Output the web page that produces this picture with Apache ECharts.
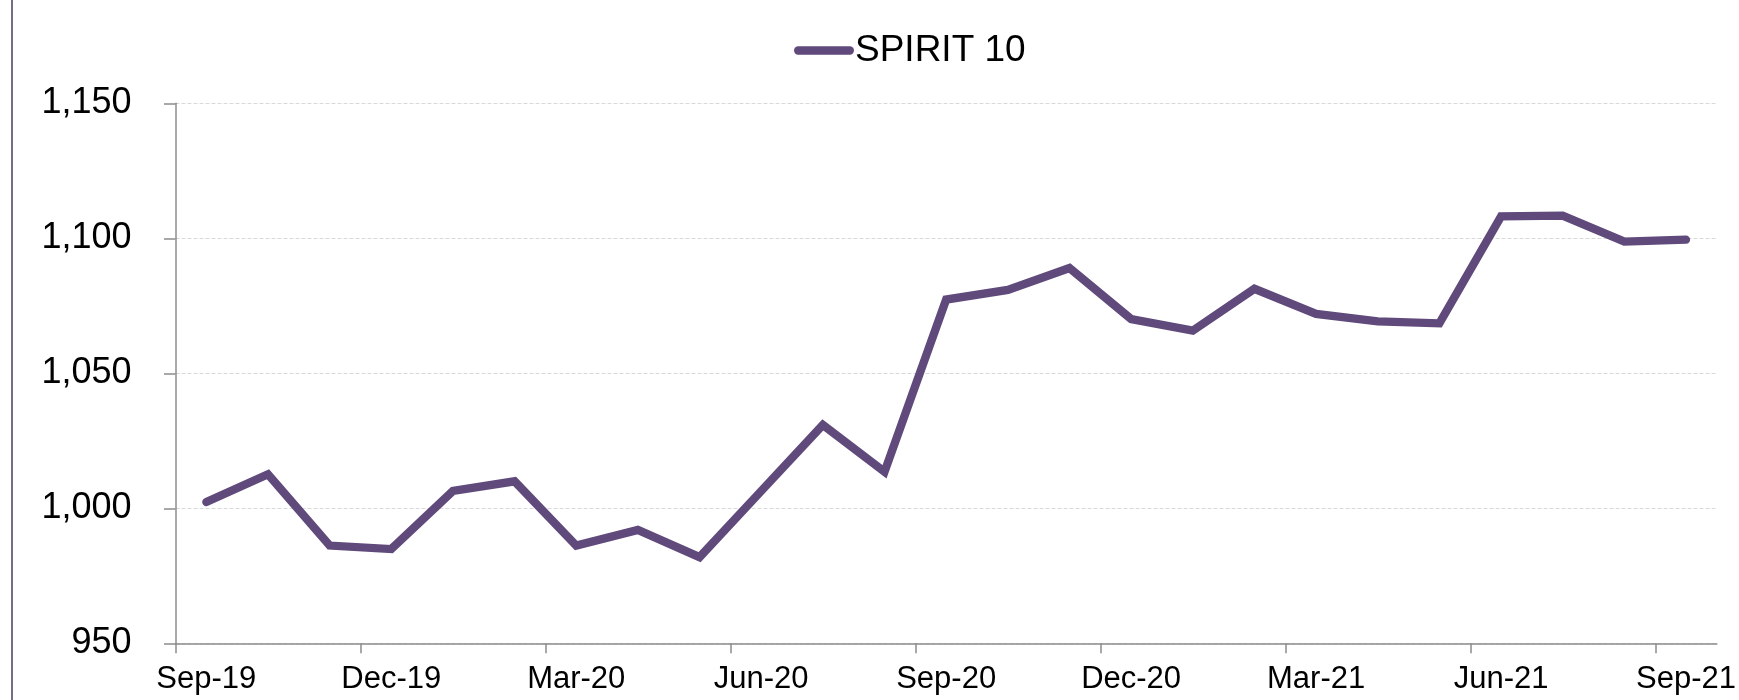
<!DOCTYPE html>
<html>
<head>
<meta charset="utf-8">
<script src="https://cdn.jsdelivr.net/npm/echarts@6/dist/echarts.min.js"></script>
<style>
html,body{margin:0;padding:0;background:#fff;}
#chart{width:1739px;height:700px;}
</style>
</head>
<body>
<div id="chart"></div>
<script>
const categories = ["Sep-19","Oct-19","Nov-19","Dec-19","Jan-20","Feb-20","Mar-20","Apr-20","May-20","Jun-20","Jul-20","Aug-20","Sep-20","Oct-20","Nov-20","Dec-20","Jan-21","Feb-21","Mar-21","Apr-21","May-21","Jun-21","Jul-21","Aug-21","Sep-21"];
const spirit10 = [1002.3,1012.6,986.2,984.9,1006.4,1010.0,986.2,992.0,981.9,1006.4,1030.9,1013.5,1077.3,1080.9,1089.0,1070.1,1065.8,1081.3,1072.0,1069.2,1068.5,1108.1,1108.4,1098.8,1099.5];
const seriesName = "SPIRIT 10";
const yMin = 950, yMax = 1150, yStep = 50;

const chart = echarts.init(document.getElementById('chart'), null, {renderer:'canvas'});
const FONT = "'Liberation Sans', Arial, sans-serif";
const AXIS = '#8c8c8c';
const catW = (1739 - 175.5 - 22) / categories.length;
chart.setOption({
  animation: false,
  backgroundColor: '#ffffff',
  legend: {
    data: [seriesName],
    top: 27,
    left: 789,
    icon: 'path://M4.15,0 H55.85 A4.15,4.15 0 0 1 55.85,8.3 H4.15 A4.15,4.15 0 0 1 4.15,0 Z',
    itemWidth: 60,
    itemHeight: 8.3,
    textStyle: {fontFamily: FONT, fontSize: 37, color: '#000', padding: [0, 0, 0, -4]}
  },
  grid: [
    {left: 175.5, right: 22, top: 103.3, bottom: 56.7, containLabel: false},
    {left: 175.5, right: 22 + catW, top: 103.3, bottom: 56.7, containLabel: false}
  ],
  xAxis: [{
    type: 'category',
    gridIndex: 0,
    data: categories,
    boundaryGap: true,
    axisLine: {lineStyle: {color: AXIS, width: 1.5}},
    axisTick: {show: false},
    axisLabel: {interval: 2, fontFamily: FONT, fontSize: 31, color: '#000', margin: 21},
    splitLine: {show: false}
  }, {
    type: 'category',
    gridIndex: 1,
    data: categories.slice(0, categories.length - 1),
    boundaryGap: true,
    axisLine: {show: false},
    axisTick: {show: true, interval: 2, length: 10, lineStyle: {color: AXIS, width: 1.5}},
    axisLabel: {show: false},
    splitLine: {show: false}
  }],
  yAxis: [{
    type: 'value',
    gridIndex: 0,
    min: yMin, max: yMax, interval: yStep,
    axisLine: {show: true, lineStyle: {color: AXIS, width: 1.5}},
    axisTick: {show: true, length: 11.5, lineStyle: {color: AXIS, width: 1.5}},
    axisLabel: {fontFamily: FONT, fontSize: 36, color: '#000', margin: 44,
      formatter: v => v.toLocaleString('en-US')},
    splitLine: {show: true, lineStyle: {color: '#d9d9d9', type: [4, 2], width: 1}}
  }, {
    type: 'value',
    gridIndex: 1,
    min: yMin, max: yMax, interval: yStep,
    show: false
  }],
  series: [{
    name: seriesName,
    type: 'line',
    xAxisIndex: 0,
    yAxisIndex: 0,
    data: spirit10,
    symbol: 'none',
    color: '#604a7b',
    lineStyle: {color: '#604a7b', width: 8.3, cap: 'round', join: 'miter'}
  }],
  graphic: [{
    type: 'line',
    shape: {x1: 12, y1: 0, x2: 12, y2: 700},
    style: {stroke: '#4a3a5c', lineWidth: 1.5}
  }]
});
</script>
</body>
</html>
